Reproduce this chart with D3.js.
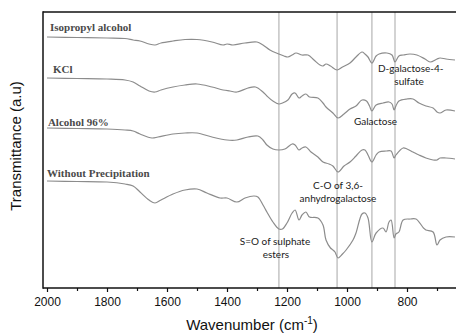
<!DOCTYPE html>
<html>
<head>
<meta charset="utf-8">
<script src="https://cdn.jsdelivr.net/npm/d3@7"></script>
<style>
  html, body { margin: 0; padding: 0; background: #fff; }
  svg { display: block; }
</style>
</head>
<body>
<svg id="chart" width="456" height="333"></svg>
<script>
// ---- Data (wavenumber cm-1, transmittance a.u.) ----
const isopropyl = [[2000,25.1],[1900,25.05],[1800,25.0],[1740,24.95],[1713,24.8],[1690,24.7],[1660,24.4],[1640,24.3],[1620,24.5],[1580,24.7],[1540,24.85],[1500,24.85],[1450,24.6],[1413,24.3],[1400,24.4],[1380,24.3],[1340,24.5],[1300,24.6],[1280,24.3],[1257,23.8],[1227,23.4],[1210,23.2],[1197,23.1],[1183,23.3],[1170,23.5],[1150,23.3],[1130,23.3],[1110,22.8],[1090,22.3],[1080,22.2],[1070,22.4],[1055,22.2],[1033,21.8],[1015,22.1],[990,22.5],[970,23.1],[950,23.6],[940,23.4],[930,23.1],[917,22.5],[903,23.2],[893,23.4],[867,23.5],[850,23.3],[840,22.6],[827,23.2],[813,23.3],[790,23.4],[767,23.3],[740,22.9],[723,22.6],[700,22.9],[690,23.0],[670,22.9],[640,22.8]];
const kcl = [[2000,21.0],[1900,20.95],[1800,20.9],[1740,20.8],[1713,20.6],[1690,20.2],[1660,19.7],[1640,19.6],[1620,19.8],[1580,20.1],[1540,20.3],[1500,20.4],[1450,20.1],[1413,19.8],[1390,19.7],[1367,19.6],[1330,20.0],[1305,20.1],[1280,19.6],[1267,19.2],[1247,18.7],[1227,18.4],[1215,18.5],[1197,18.8],[1183,19.4],[1173,19.5],[1160,19.0],[1150,19.2],[1137,19.4],[1125,19.1],[1097,19.0],[1080,18.5],[1070,18.1],[1047,17.5],[1030,17.0],[1010,17.4],[990,17.9],[970,18.2],[950,18.8],[935,18.7],[925,18.2],[917,17.7],[903,18.3],[880,18.5],[860,18.6],[850,18.4],[843,17.8],[837,18.2],[827,18.7],[800,18.9],[780,18.9],[760,18.5],[737,18.2],[713,18.0],[700,17.6],[690,17.5],[670,17.8],[640,17.7]];
const alcohol96 = [[2000,16.0],[1900,15.95],[1800,15.9],[1740,15.8],[1713,15.7],[1690,15.4],[1650,15.0],[1630,15.1],[1580,15.4],[1540,15.5],[1500,15.5],[1450,15.1],[1400,14.8],[1367,14.8],[1330,15.1],[1297,15.2],[1280,14.8],[1267,14.3],[1247,13.9],[1227,13.8],[1207,13.9],[1183,14.4],[1173,14.3],[1160,13.8],[1150,14.0],[1137,14.1],[1120,13.6],[1097,13.1],[1080,12.6],[1060,12.4],[1047,12.2],[1030,11.6],[1010,12.2],[990,12.6],[970,13.2],[950,13.8],[940,13.8],[930,13.3],[917,12.6],[903,13.3],[893,13.6],[870,13.7],[853,13.7],[843,13.0],[837,13.3],[813,14.0],[800,13.9],[780,13.6],[760,13.3],[737,13.0],[713,12.8],[700,12.8],[690,13.0],[670,13.0],[640,12.9]];
const withoutPrecip = [[2000,10.7],[1900,10.65],[1800,10.6],[1740,10.4],[1713,10.2],[1690,9.6],[1660,8.8],[1640,8.5],[1620,8.8],[1580,9.4],[1540,9.8],[1500,9.9],[1467,9.5],[1423,9.0],[1400,9.0],[1367,8.6],[1340,9.0],[1310,9.2],[1297,9.1],[1280,8.3],[1267,7.6],[1247,6.6],[1227,5.9],[1215,5.9],[1200,6.5],[1183,7.5],[1173,7.8],[1160,6.8],[1150,7.3],[1137,7.6],[1125,7.1],[1097,7.0],[1080,6.3],[1070,4.8],[1055,4.0],[1047,3.8],[1040,3.6],[1030,3.0],[1015,3.4],[1003,3.8],[980,4.8],[970,5.5],[950,7.4],[940,7.5],[930,7.0],[917,4.6],[903,5.5],[880,6.0],[870,5.6],[860,6.6],[853,6.8],[843,5.0],[837,5.4],[827,5.6],[813,6.8],[790,6.9],[770,6.9],[745,6.0],[737,5.8],[713,5.6],[700,4.3],[690,4.8],[670,5.1],[640,5.1]];

const seriesNames = ["Isopropyl alcohol", "KCl", "Alcohol 96%", "Without Precipitation"];
const seriesData = [isopropyl, kcl, alcohol96, withoutPrecip];
const labelAnchors = [[1990, 25.7], [1980, 21.5], [1997, 16.2], [2000, 11.1]];

const bandLines = [1227, 1033, 917, 840];
const annotations = [
  { lines: ["D-galactose-4-", "sulfate"], w: [897, 793], v: [21.6, 20.3], anchor: ["start", "middle"] },
  { lines: ["Galactose"], w: [977], v: [16.3], anchor: ["start"] },
  { lines: ["C-O of 3,6-", "anhydrogalactose"], w: [1030, 1030], v: [9.9, 8.6], anchor: ["middle", "middle"] },
  { lines: ["S=O of sulphate", "esters"], w: [1240, 1237], v: [4.3, 3.0], anchor: ["middle", "middle"] }
];

const majorTicks = [2000, 1800, 1600, 1400, 1200, 1000, 800];
const minorTicks = [1900, 1700, 1500, 1300, 1100, 900, 700];

// ---- Layout ----
const svg = d3.select("#chart");
const mLeft = 43, mRight = 456, mTop = 12, mBottom = 288;

const x = d3.scaleLinear().domain([2000, 800]).range([47, 407]);
const y = d3.scaleLinear().domain([0, 27.6]).range([mBottom, mTop]);

// band lines
svg.append("g").selectAll("line").data(bandLines).join("line")
  .attr("x1", d => x(d)).attr("x2", d => x(d))
  .attr("y1", mTop).attr("y2", mBottom)
  .attr("stroke", "#c4c4c4").attr("stroke-width", 1.5);

// curves
const line = d3.line()
  .x(d => x(d[0])).y(d => y(d[1]))
  .curve(d3.curveCatmullRom.alpha(0.5));

svg.append("defs").append("clipPath").attr("id", "clip")
  .append("rect").attr("x", mLeft).attr("y", mTop).attr("width", mRight - mLeft).attr("height", mBottom - mTop);

svg.append("g").attr("clip-path", "url(#clip)")
  .selectAll("path").data(seriesData).join("path")
  .attr("d", line)
  .attr("fill", "none")
  .attr("stroke", "#8c8c8c")
  .attr("stroke-width", 1.2);

// series labels
svg.append("g").selectAll("text").data(seriesNames).join("text")
  .attr("x", (d, i) => x(labelAnchors[i][0]))
  .attr("y", (d, i) => y(labelAnchors[i][1]))
  .attr("font-family", "'Liberation Serif', 'Times New Roman', serif")
  .attr("font-size", 11)
  .attr("font-weight", "bold")
  .attr("fill", "#4a4a4a")
  .text(d => d);

// annotations
const ag = svg.append("g")
  .attr("font-family", "Lato, 'Open Sans', sans-serif")
  .attr("font-size", 10)
  .attr("fill", "#1a1a1a");
annotations.forEach(a => {
  a.lines.forEach((t, i) => {
    ag.append("text")
      .attr("x", x(a.w[i])).attr("y", y(a.v[i]))
      .attr("text-anchor", a.anchor[i])
      .text(t);
  });
});

// frame
svg.append("line").attr("x1", mLeft).attr("x2", mRight).attr("y1", mTop).attr("y2", mTop)
  .attr("stroke", "#111").attr("stroke-width", 1.5);
svg.append("line").attr("x1", mLeft).attr("x2", mLeft).attr("y1", mTop - 0.75).attr("y2", mBottom + 0.75)
  .attr("stroke", "#111").attr("stroke-width", 1.5);
svg.append("line").attr("x1", mLeft).attr("x2", mRight).attr("y1", mBottom).attr("y2", mBottom)
  .attr("stroke", "#111").attr("stroke-width", 1.5);

// x axis
const xAxis = d3.axisBottom(x).tickValues(majorTicks).tickSize(4).tickPadding(5).tickFormat(d3.format("d"));
const gx = svg.append("g").attr("transform", `translate(0,${mBottom})`).call(xAxis);
gx.select(".domain").remove();
gx.selectAll(".tick line").attr("stroke", "#111").attr("stroke-width", 1.2);
gx.selectAll(".tick text")
  .attr("font-family", "'Liberation Sans', Arial, sans-serif")
  .attr("font-size", 12).attr("fill", "#111");

const xMinor = d3.axisBottom(x).tickValues(minorTicks).tickSize(3).tickFormat("");
const gm = svg.append("g").attr("transform", `translate(0,${mBottom})`).call(xMinor);
gm.select(".domain").remove();
gm.selectAll(".tick line").attr("stroke", "#111").attr("stroke-width", 1.2);

// axis titles
const xt = svg.append("text")
  .attr("x", 252).attr("y", 330)
  .attr("text-anchor", "middle")
  .attr("font-family", "'Liberation Sans', Arial, sans-serif")
  .attr("font-size", 15).attr("fill", "#111");
xt.append("tspan").text("Wavenumber (cm");
xt.append("tspan").attr("font-size", 10).attr("dy", -6).text("-1");
xt.append("tspan").attr("dy", 6).text(")");

svg.append("text")
  .attr("transform", "translate(21,146) rotate(-90)")
  .attr("text-anchor", "middle")
  .attr("font-family", "'Liberation Sans', Arial, sans-serif")
  .attr("font-size", 15).attr("fill", "#111")
  .text("Transmittance (a.u)");
</script>
</body>
</html>
